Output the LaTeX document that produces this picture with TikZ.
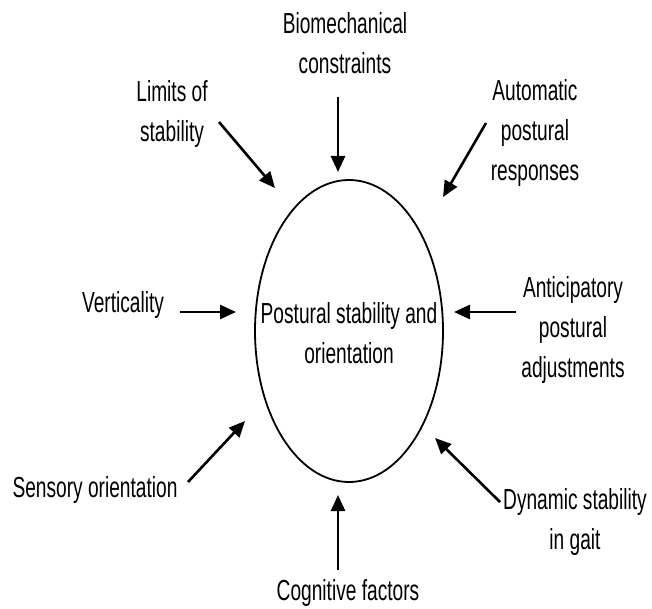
\documentclass[tikz,border=0pt]{standalone}
\usepackage{fontspec}
\setmainfont{Liberation Sans}[FakeStretch=0.66]
\usetikzlibrary{arrows.meta}
\begin{document}
\begin{tikzpicture}[x=1pt,y=-1pt,
  lbl/.style={align=center,inner sep=0pt,font=\fontsize{29}{40}\selectfont,text=black},
  arr/.style={line width=2.6pt,-{Triangle[length=16pt,width=14pt]}}]
\useasboundingbox (0,0) rectangle (652,609);
\node[lbl] (c) at (349,333) {Postural stability and\\orientation};
\draw[line width=1.8pt] (c.center) ++(0,-2) ellipse [x radius=94, y radius=151];
\node[lbl] (bio) at (345,43) {Biomechanical\\constraints};
\node[lbl] (lim) at (172,114) {Limits of\\stability};
\node[lbl] (aut) at (535,133) {Automatic\\postural\\responses};
\node[lbl] (ver) at (123,305) {Verticality};
\node[lbl] (ant) at (573,330) {Anticipatory\\postural\\adjustments};
\node[lbl] (sen) at (95,490) {Sensory orientation};
\node[lbl] (dyn) at (575,522) {Dynamic stability\\in gait};
\node[lbl] (cog) at (348,593) {Cognitive factors};
\coordinate (bioS) at (338,97);  \coordinate (bioT) at (338,172);
\coordinate (limS) at (219,122); \coordinate (limT) at (275,188);
\coordinate (autS) at (486,123); \coordinate (autT) at (443,197);
\coordinate (verS) at (180,312); \coordinate (verT) at (236,312);
\coordinate (antS) at (516,312); \coordinate (antT) at (454,312);
\coordinate (senS) at (188,482); \coordinate (senT) at (245,421);
\coordinate (dynS) at (500,502); \coordinate (dynT) at (435,438);
\coordinate (cogS) at (338,570); \coordinate (cogT) at (338,495);
\draw[arr] (bioS) -- (bioT);
\draw[arr] (limS) -- (limT);
\draw[arr] (autS) -- (autT);
\draw[arr] (verS) -- (verT);
\draw[arr] (antS) -- (antT);
\draw[arr] (senS) -- (senT);
\draw[arr] (dynS) -- (dynT);
\draw[arr] (cogS) -- (cogT);
\end{tikzpicture}
\end{document}
